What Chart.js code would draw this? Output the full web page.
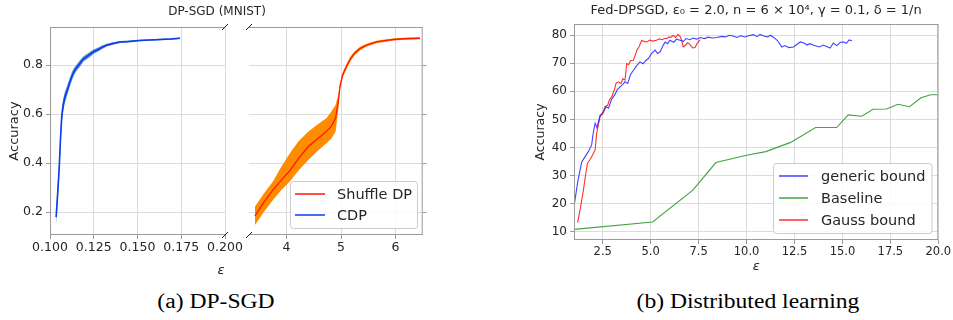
<!DOCTYPE html>
<html>
<head>
<meta charset="utf-8">
<script src="https://cdn.jsdelivr.net/npm/chart.js@4.4.1/dist/chart.umd.min.js"></script>
<style>
  body { margin: 0; width: 953px; height: 320px; background: #fff; position: relative; overflow: hidden; font-family: 'DejaVu Sans'; color: #262626; }
  .box { position: absolute; }
  .txt { position: absolute; white-space: nowrap; transform: translate(-50%, -50%); }
  .cap { position: absolute; white-space: nowrap; font-family: 'Liberation Serif'; font-size: 20px; color: #000; transform: translate(-50%, -50%) scaleX(1.18); }
</style>
</head>
<body>
<div class="box" style="left:0;top:0;width:250px;height:260px"><canvas id="cA1"></canvas></div>
<div class="box" style="left:240px;top:0;width:200px;height:260px"><canvas id="cA2"></canvas></div>
<div class="box" style="left:500px;top:0;width:453px;height:280px"><canvas id="cB"></canvas></div>
<div class="txt" style="left:217px;top:11px;font-size:12px">DP-SGD (MNIST)</div>
<div class="txt" style="left:221px;top:269px;font-size:13px;font-style:italic">ε</div>
<div class="cap" style="left:216px;top:301px">(a) DP-SGD</div>
<div class="cap" style="left:748px;top:301px">(b) Distributed learning</div>
<script>
// ---- (a) DP-SGD on MNIST, broken x axis ----
const cdpX  = [0.1035, 0.1045, 0.1053, 0.106, 0.1067, 0.1075, 0.1086, 0.110, 0.1112, 0.1124, 0.1138, 0.1152, 0.1171, 0.119, 0.121, 0.123, 0.1248, 0.127, 0.1295, 0.1324, 0.136, 0.140, 0.145, 0.151, 0.157, 0.163, 0.169, 0.1743];
const cdpY  = [0.180, 0.290, 0.385, 0.500, 0.590, 0.635, 0.672, 0.700, 0.728, 0.753, 0.775, 0.790, 0.807, 0.825, 0.835, 0.845, 0.855, 0.862, 0.872, 0.882, 0.889, 0.895, 0.897, 0.901, 0.903, 0.905, 0.907, 0.910];
const cdpHi = [0.205, 0.320, 0.415, 0.530, 0.620, 0.662, 0.695, 0.720, 0.746, 0.770, 0.790, 0.803, 0.820, 0.836, 0.846, 0.855, 0.864, 0.870, 0.879, 0.888, 0.894, 0.899, 0.901, 0.904, 0.906, 0.908, 0.910, 0.913];
const cdpLo = [0.150, 0.260, 0.355, 0.470, 0.560, 0.608, 0.650, 0.680, 0.710, 0.736, 0.760, 0.777, 0.794, 0.814, 0.824, 0.835, 0.846, 0.854, 0.865, 0.876, 0.884, 0.891, 0.893, 0.898, 0.900, 0.902, 0.904, 0.907];

const shufX  = [3.42, 3.58, 3.75, 3.90, 4.06, 4.22, 4.40, 4.57, 4.73, 4.82, 4.90, 4.95, 4.98, 5.03, 5.10, 5.17, 5.25, 5.35, 5.47, 5.65, 5.80, 5.96, 6.15, 6.30, 6.45];
const shufY  = [0.185, 0.240, 0.291, 0.330, 0.370, 0.420, 0.468, 0.500, 0.529, 0.550, 0.584, 0.650, 0.713, 0.760, 0.795, 0.825, 0.849, 0.868, 0.882, 0.895, 0.900, 0.905, 0.908, 0.909, 0.910];
const shufHi = [0.223, 0.275, 0.325, 0.385, 0.441, 0.490, 0.529, 0.558, 0.584, 0.610, 0.638, 0.680, 0.725, 0.770, 0.805, 0.835, 0.857, 0.875, 0.888, 0.900, 0.905, 0.909, 0.912, 0.913, 0.914];
const shufLo = [0.148, 0.200, 0.250, 0.290, 0.325, 0.370, 0.413, 0.450, 0.481, 0.500, 0.529, 0.620, 0.700, 0.750, 0.785, 0.815, 0.841, 0.861, 0.876, 0.890, 0.895, 0.901, 0.904, 0.905, 0.906];

const aTicksY  = [0.2, 0.4, 0.6, 0.8];
const aTicksX1 = [0.100, 0.125, 0.150, 0.175, 0.200];
const aTicksX2 = [4, 5, 6];

// ---- (b) Fed-DPSGD ----
const genX = [1.0, 1.2, 1.4, 1.6, 1.75, 1.92, 2.0, 2.1, 2.2, 2.36, 2.5, 2.67, 2.8, 2.95, 3.14, 3.25, 3.4, 3.55, 3.66, 3.8, 3.95, 4.1, 4.25, 4.44, 4.6, 4.75, 4.88, 5.05, 5.23, 5.35, 5.49, 5.62, 5.75, 5.88, 6.0, 6.2, 6.35, 6.53, 6.7, 6.85, 7.05, 7.2, 7.4, 7.58, 7.8, 8.0, 8.2, 8.45, 8.7, 8.9, 9.1, 9.3, 9.5, 9.7, 9.9, 10.1, 10.36, 10.55, 10.7, 10.9, 11.1, 11.25, 11.4, 11.6, 11.84, 12.0, 12.2, 12.45, 12.6, 12.8, 13.0, 13.15, 13.3, 13.5, 13.8, 14.0, 14.2, 14.36, 14.53, 14.7, 14.9, 15.05, 15.2, 15.35, 15.5];
const genY = [18.9, 28.0, 34.7, 37.0, 38.5, 40.9, 45.0, 48.6, 47.0, 51.5, 52.0, 54.5, 54.0, 57.0, 58.9, 60.5, 61.6, 62.5, 63.4, 62.8, 66.0, 67.5, 69.0, 70.5, 69.8, 71.0, 71.7, 73.5, 74.7, 73.5, 74.1, 76.0, 77.6, 77.0, 78.2, 77.5, 78.6, 78.2, 77.8, 78.8, 78.4, 79.0, 78.6, 79.2, 78.8, 79.3, 79.0, 79.2, 79.6, 79.4, 80.0, 79.7, 79.2, 79.8, 79.4, 79.8, 80.2, 79.5, 80.3, 79.7, 79.4, 80.0, 79.3, 78.2, 75.8, 76.3, 75.6, 75.8, 76.6, 77.6, 77.2, 76.5, 77.0, 76.4, 75.8, 76.5, 75.9, 75.4, 77.2, 76.3, 77.5, 77.6, 77.1, 78.3, 78.0];

const baseX = [1.0, 5.1, 7.2, 8.4, 10.0, 11.0, 12.3, 13.6, 14.7, 15.3, 16.0, 16.6, 17.3, 17.9, 18.5, 19.1, 19.6, 20.0];
const baseY = [10.8, 13.4, 24.8, 34.6, 37.2, 38.5, 41.8, 47.1, 47.1, 51.6, 51.1, 53.6, 53.7, 55.4, 54.5, 57.7, 58.8, 58.8];

const gaussX = [1.19, 1.35, 1.49, 1.6, 1.7, 1.82, 1.92, 2.02, 2.1, 2.18, 2.27, 2.36, 2.5, 2.62, 2.75, 2.85, 2.97, 3.1, 3.2, 3.31, 3.45, 3.55, 3.66, 3.75, 3.85, 3.95, 4.1, 4.2, 4.27, 4.4, 4.53, 4.65, 4.79, 4.95, 5.1, 5.3, 5.45, 5.6, 5.75, 5.84, 5.95, 6.05, 6.18, 6.3, 6.42, 6.53, 6.6, 6.7, 6.82, 6.92, 7.0, 7.1, 7.2, 7.31, 7.42, 7.5, 7.58];
const gaussY = [13.2, 19.0, 24.8, 30.0, 34.3, 35.5, 36.7, 38.0, 39.1, 45.0, 48.0, 50.9, 52.5, 54.5, 55.0, 57.0, 58.0, 60.5, 63.0, 63.4, 62.8, 64.5, 64.0, 69.9, 69.5, 71.0, 71.1, 73.0, 74.6, 76.0, 78.2, 77.8, 77.6, 78.3, 77.9, 78.2, 78.7, 78.4, 78.9, 78.8, 79.4, 79.2, 80.0, 79.2, 80.3, 79.6, 78.5, 75.8, 76.5, 77.3, 77.0, 76.2, 75.5, 75.6, 77.0, 77.8, 78.4];

const bTicksX = [2.5, 5.0, 7.5, 10.0, 12.5, 15.0, 17.5, 20.0];
const bTicksY = [10, 20, 30, 40, 50, 60, 70, 80];

const pts = (xs, ys) => xs.map((x, i) => ({ x: x, y: ys[i] }));

Chart.defaults.font.family = "'DejaVu Sans'";
Chart.defaults.color = '#262626';
Chart.defaults.animation = false;

const GRID = '#dcdcdc', SPINE = '#9a9a9a';

// frame lines round the plot area, and the little diagonal break marks
const spines = {
  id: 'spines',
  afterDraw(chart, args, o) {
    const { ctx, chartArea: a } = chart;
    ctx.save();
    ctx.strokeStyle = SPINE; ctx.lineWidth = 1;
    ctx.beginPath();
    if (o.sides.includes('top'))    { ctx.moveTo(a.left, a.top + 0.5);    ctx.lineTo(a.right, a.top + 0.5); }
    if (o.sides.includes('bottom')) { ctx.moveTo(a.left, a.bottom - 0.5); ctx.lineTo(a.right, a.bottom - 0.5); }
    if (o.sides.includes('left'))   { ctx.moveTo(a.left + 0.5, a.top);    ctx.lineTo(a.left + 0.5, a.bottom); }
    if (o.sides.includes('right'))  { ctx.moveTo(a.right - 0.5, a.top);   ctx.lineTo(a.right - 0.5, a.bottom); }
    ctx.stroke();
    if (o.brk) {
      const x = o.brk === 'left' ? a.left : a.right;
      ctx.strokeStyle = '#222';
      ctx.beginPath();
      [a.top, a.bottom].forEach(y => { ctx.moveTo(x - 3, y + 3); ctx.lineTo(x + 3, y - 3); });
      ctx.stroke();
    }
    ctx.restore();
  }
};

// legend box drawn inside the plot area, lower right
const boxLegend = {
  id: 'boxLegend',
  afterDraw(chart, args, o) {
    if (!o.show) return;
    const items = chart.data.datasets.filter(d => d.label);
    const { ctx, chartArea: a } = chart;
    ctx.save();
    ctx.font = o.size + "px 'DejaVu Sans'";
    const tw = Math.max(...items.map(d => ctx.measureText(d.label).width));
    const w = o.pad + o.line + o.gap + tw + o.pad;
    const h = 2 * o.padY + items.length * o.row;
    const x = Math.round(a.right - o.right - w), y = Math.round(a.bottom - o.bottom - h);
    ctx.beginPath();
    ctx.roundRect(x + 0.5, y + 0.5, w, h, 3);
    ctx.fillStyle = 'rgba(255,255,255,0.85)'; ctx.fill();
    ctx.strokeStyle = '#cccccc'; ctx.lineWidth = 1; ctx.stroke();
    items.forEach((d, i) => {
      const cy = y + o.padY + o.row * (i + 0.5);
      ctx.strokeStyle = d.borderColor; ctx.lineWidth = 1.5;
      ctx.beginPath(); ctx.moveTo(x + o.pad, cy); ctx.lineTo(x + o.pad + o.line, cy); ctx.stroke();
      ctx.fillStyle = '#262626'; ctx.textBaseline = 'middle';
      ctx.fillText(d.label, x + o.pad + o.line + o.gap, cy + 1);
    });
    ctx.restore();
  }
};

function setTicks(vals) {
  return scale => { scale.ticks = vals.map(v => ({ value: v })); };
}

function panelA(id, xmin, xmax, xticks, xfmt, left) {
  const ds = [
    { label: 'Shuffle DP', data: pts(shufX, shufY), borderColor: '#ff1a00', borderWidth: 1.3, pointRadius: 0, fill: false, order: 0 },
    { label: 'CDP', data: pts(cdpX, cdpY), borderColor: '#0a3cf0', borderWidth: 1.6, pointRadius: 0, fill: false, order: 0 },
    { data: pts(shufX, shufHi), borderWidth: 0, pointRadius: 0, backgroundColor: '#ff8c00', fill: '+1', order: 1 },
    { data: pts(shufX, shufLo), borderWidth: 0, pointRadius: 0, fill: false, order: 1 },
    { data: pts(cdpX, cdpHi), borderWidth: 0, pointRadius: 0, backgroundColor: 'rgba(40,110,190,0.75)', fill: '+1', order: 1 },
    { data: pts(cdpX, cdpLo), borderWidth: 0, pointRadius: 0, fill: false, order: 1 }
  ];
  return new Chart(document.getElementById(id), {
    type: 'line',
    data: { datasets: ds },
    plugins: [spines, boxLegend],
    options: {
      responsive: true, maintainAspectRatio: false,
      layout: { padding: left ? { left: 0, right: 25, top: 27, bottom: 0 } : { left: 9, right: 0, top: 27, bottom: 0 } },
      plugins: {
        legend: { display: false }, tooltip: { enabled: false },
        spines: left ? { sides: ['top', 'bottom', 'left'], brk: 'right' } : { sides: ['top', 'bottom', 'right'], brk: 'left' },
        boxLegend: { show: !left, size: 14.5, pad: 5, padY: 2.5, line: 30, gap: 12, row: 21, right: 6, bottom: 7 }
      },
      scales: {
        x: {
          type: 'linear', min: xmin, max: xmax,
          afterBuildTicks: setTicks(xticks),
          afterFit: s => { s.height = 25; },
          ticks: { autoSkip: false, maxRotation: 0, padding: 1, font: { size: 12.5 }, callback: xfmt },
          grid: { color: GRID, tickColor: SPINE, tickLength: 4 },
          border: { display: false }
        },
        y: {
          position: left ? 'left' : 'right',
          min: 0.107, max: 0.956,
          afterBuildTicks: setTicks(aTicksY),
          afterFit: s => { s.width = left ? 50 : 17.3; },
          ticks: { display: left, padding: 3, font: { size: 12.5 }, callback: v => v.toFixed(1) },
          grid: { color: GRID, tickColor: SPINE, tickLength: 4 },
          border: { display: false },
          title: { display: left, text: 'Accuracy', font: { size: 13 }, padding: { top: 7, bottom: 0 } }
        }
      }
    }
  });
}

panelA('cA1', 0.1, 0.2, aTicksX1, v => v.toFixed(3), true);
panelA('cA2', 3.31, 6.5, aTicksX2, v => String(v), false);

new Chart(document.getElementById('cB'), {
  type: 'line',
  data: {
    datasets: [
      { label: 'generic bound', data: pts(genX, genY), borderColor: 'rgba(20,20,255,0.8)', borderWidth: 1.1, pointRadius: 0, fill: false },
      { label: 'Baseline', data: pts(baseX, baseY), borderColor: 'rgba(20,140,20,0.8)', borderWidth: 1.1, pointRadius: 0, fill: false },
      { label: 'Gauss bound', data: pts(gaussX, gaussY), borderColor: 'rgba(255,10,10,0.85)', borderWidth: 1.1, pointRadius: 0, fill: false }
    ]
  },
  plugins: [spines, boxLegend],
  options: {
    responsive: true, maintainAspectRatio: false,
    layout: { padding: { left: 0, right: 14.7, top: 0, bottom: 0 } },
    plugins: {
      legend: { display: false }, tooltip: { enabled: false },
      title: { display: true, fullSize: false, text: 'Fed-DPSGD, ε₀ = 2.0, n = 6 × 10⁴, γ = 0.1, δ = 1/n', color: '#262626', font: { size: 13, weight: 'normal' }, lineHeight: 1.2, padding: { top: 3, bottom: 5.4 } },
      spines: { sides: ['top', 'bottom', 'left', 'right'] },
      boxLegend: { show: true, size: 14.5, pad: 6, padY: 2, line: 29, gap: 13, row: 22, right: 6.5, bottom: 7.3 }
    },
    scales: {
      x: {
        type: 'linear', min: 1, max: 20,
        afterBuildTicks: setTicks(bTicksX),
        afterFit: s => { s.height = 40; },
        ticks: { autoSkip: false, maxRotation: 0, padding: 1, font: { size: 11.5 }, callback: v => v.toFixed(1) },
        grid: { color: GRID, tickColor: SPINE, tickLength: 4 },
        border: { display: false },
        title: { display: true, text: 'ε', font: { size: 13, style: 'italic' }, padding: { top: 0, bottom: 6 } }
      },
      y: {
        min: 7, max: 84,
        afterBuildTicks: setTicks(bTicksY),
        afterFit: s => { s.width = 74; },
        ticks: { padding: 3, font: { size: 12 }, callback: v => String(v) },
        grid: { color: GRID, tickColor: SPINE, tickLength: 4 },
        border: { display: false },
        title: { display: true, text: 'Accuracy', font: { size: 12.5 }, padding: { top: 33.5, bottom: 0 } }
      }
    }
  }
});
</script>
</body>
</html>
